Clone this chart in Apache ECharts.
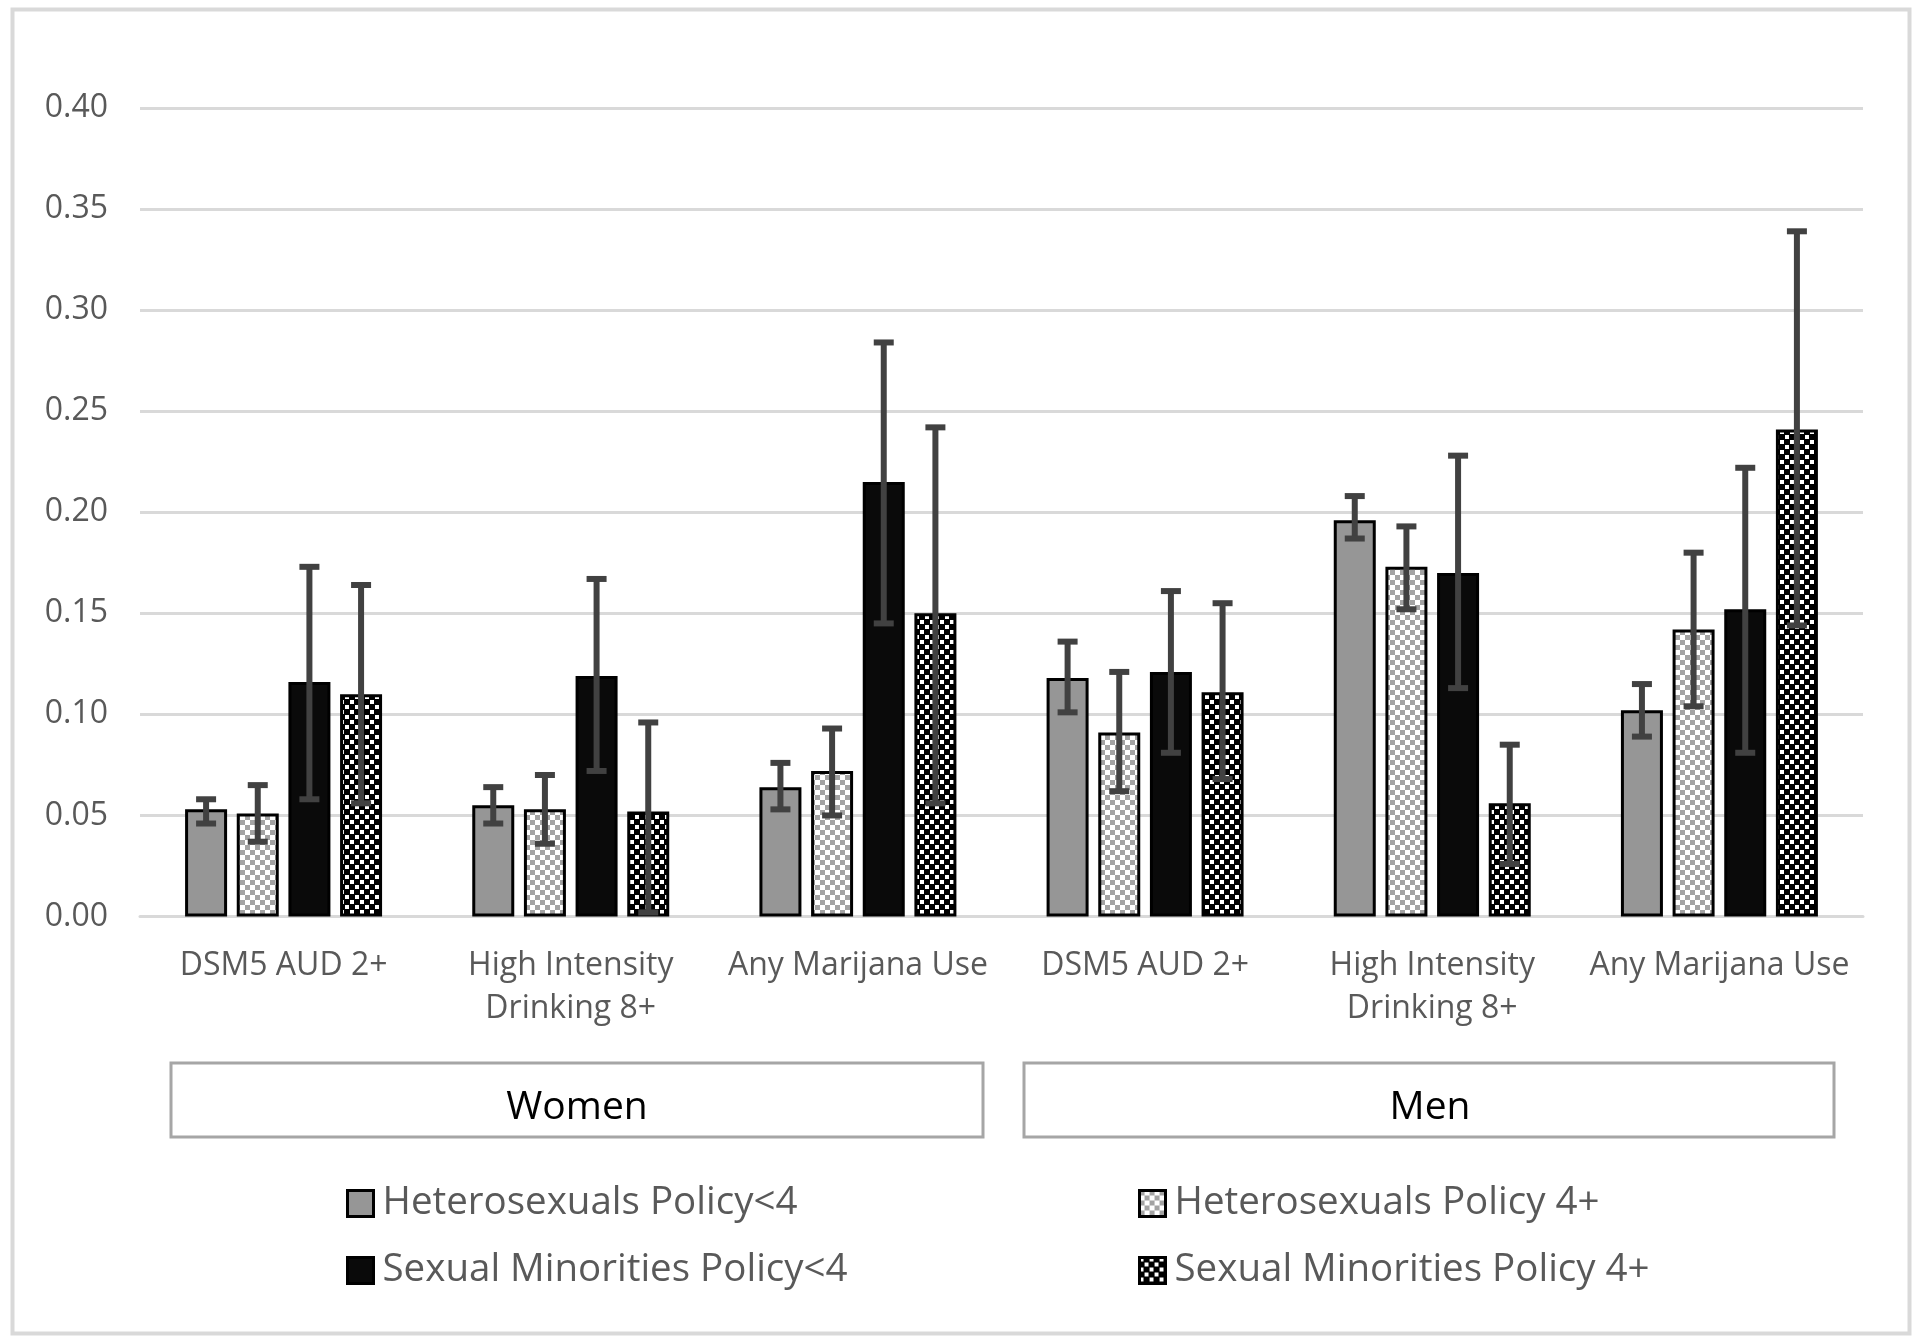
<!DOCTYPE html>
<html>
<head>
<meta charset="utf-8">
<script src="https://cdn.jsdelivr.net/npm/echarts@6/dist/echarts.min.js"></script>
<style>
html,body{margin:0;padding:0;background:#fff;}
#chart{width:1918px;height:1339px;}
</style>
</head>
<body>
<div id="chart"></div>
<script>
// ---- data ----
const categories = ['DSM5 AUD 2+', 'High Intensity\nDrinking 8+', 'Any Marijana Use', 'DSM5 AUD 2+', 'High Intensity\nDrinking 8+', 'Any Marijana Use'];
const groupLabels = ['Women', 'Men'];
const seriesNames = ['Heterosexuals Policy<4', 'Heterosexuals Policy 4+', 'Sexual Minorities Policy<4', 'Sexual Minorities Policy 4+'];
const yTicks = [0, 0.05, 0.10, 0.15, 0.20, 0.25, 0.30, 0.35, 0.40];

const hetLow    = [0.053, 0.055, 0.064, 0.118, 0.196, 0.102];
const hetLowLo  = [0.046, 0.046, 0.053, 0.101, 0.187, 0.089];
const hetLowHi  = [0.058, 0.064, 0.076, 0.136, 0.208, 0.115];

const het4      = [0.051, 0.053, 0.072, 0.091, 0.173, 0.142];
const het4Lo    = [0.037, 0.036, 0.050, 0.062, 0.152, 0.104];
const het4Hi    = [0.065, 0.070, 0.093, 0.121, 0.193, 0.180];

const smLow     = [0.116, 0.119, 0.215, 0.121, 0.170, 0.152];
const smLowLo   = [0.058, 0.072, 0.145, 0.081, 0.113, 0.081];
const smLowHi   = [0.173, 0.167, 0.284, 0.161, 0.228, 0.222];

const sm4       = [0.110, 0.052, 0.150, 0.111, 0.056, 0.241];
const sm4Lo     = [0.056, 0.002, 0.056, 0.068, 0.026, 0.144];
const sm4Hi     = [0.164, 0.096, 0.242, 0.155, 0.085, 0.339];

// ---- styles ----
const FONT = 'Open Sans';
const TEXT = '#595959';
const BAR_W = 42;
const BAR_GAP = 0.23;

function checker(bg, fg, cell, inset) {
  const c = document.createElement('canvas');
  c.width = cell * 2; c.height = cell * 2;
  const g = c.getContext('2d');
  g.fillStyle = bg; g.fillRect(0, 0, c.width, c.height);
  g.fillStyle = fg;
  g.fillRect(0, 0, cell - inset, cell - inset);
  g.fillRect(cell, cell, cell - inset, cell - inset);
  return c;
}
const grayChecker = { image: checker('#ffffff', '#a3a3a3', 5, 0), repeat: 'repeat' };
const blackChecker = { image: checker('#000000', '#ffffff', 5, 1), repeat: 'repeat' };

const fills = ['#969696', grayChecker, '#0a0a0a', blackChecker];
const values = [hetLow, het4, smLow, sm4];
const lows = [hetLowLo, het4Lo, smLowLo, sm4Lo];
const highs = [hetLowHi, het4Hi, smLowHi, sm4Hi];

const barSeries = seriesNames.map((name, k) => ({
  name: name,
  type: 'bar',
  barWidth: BAR_W,
  barGap: (BAR_GAP * 100) + '%',
  itemStyle: { color: fills[k], borderColor: '#000', borderWidth: 3 },
  data: values[k],
  z: 2
}));

function errSeries(k) {
  const step = BAR_W * (1 + BAR_GAP);
  const offset = (k - 1.5) * step;
  return {
    type: 'custom',
    z: 5,
    encode: { x: 0, y: [1, 2] },
    data: categories.map((c, i) => [i, lows[k][i], highs[k][i]]),
    renderItem: function (params, api) {
      const i = api.value(0);
      const lo = api.coord([i, api.value(1)]);
      const hi = api.coord([i, api.value(2)]);
      const x = lo[0] + offset;
      const cap = 10;
      const st = { stroke: '#414141', lineWidth: 6, lineCap: 'butt' };
      return {
        type: 'group',
        children: [
          { type: 'line', shape: { x1: x, y1: lo[1], x2: x, y2: hi[1] }, style: st },
          { type: 'line', shape: { x1: x - cap, y1: hi[1], x2: x + cap, y2: hi[1] }, style: st },
          { type: 'line', shape: { x1: x - cap, y1: lo[1], x2: x + cap, y2: lo[1] }, style: st }
        ]
      };
    }
  };
}

const chart = echarts.init(document.getElementById('chart'), null, { renderer: 'canvas' });

const legendBase = {
  orient: 'vertical',
  top: 1178,
  itemWidth: 26,
  itemHeight: 26,
  itemGap: 26,
  icon: 'rect',
  selectedMode: false,
  itemStyle: { borderColor: '#000', borderWidth: 3 },
  textStyle: { fontFamily: FONT, fontSize: 38.5, lineHeight: 41, color: TEXT, padding: [0, 0, 0, 4] }
};

const option = {
  backgroundColor: '#ffffff',
  animation: false,
  textStyle: { fontFamily: FONT },
  grid: { left: 140, right: 55, top: 108, bottom: 422.5, containLabel: false },
  xAxis: {
    type: 'category',
    data: categories,
    axisLine: { show: true, lineStyle: { color: '#d9d9d9', width: 3 } },
    axisTick: { show: false },
    axisLabel: {
      interval: 0,
      margin: 28,
      fontFamily: FONT,
      fontSize: 32,
      lineHeight: 43,
      color: TEXT
    }
  },
  yAxis: {
    type: 'value',
    min: yTicks[0],
    max: yTicks[yTicks.length - 1],
    interval: 0.05,
    axisLine: { show: false },
    axisTick: { show: false },
    splitLine: { show: true, lineStyle: { color: '#d9d9d9', width: 3 } },
    axisLabel: {
      margin: 32,
      fontFamily: FONT,
      fontSize: 32,
      color: TEXT,
      formatter: v => v.toFixed(2)
    }
  },
  legend: [
    Object.assign({}, legendBase, { data: [seriesNames[0], seriesNames[2]], left: 341 }),
    Object.assign({}, legendBase, { data: [seriesNames[1], seriesNames[3]], left: 1133 })
  ],
  graphic: [
    { type: 'rect', left: 10, top: 7, z: -10, silent: true,
      shape: { width: 1897, height: 1324 },
      style: { fill: 'none', stroke: '#d9d9d9', lineWidth: 4 } },
    { type: 'rect', z: 1, silent: true,
      shape: { x: 171, y: 1063, width: 812, height: 74 },
      style: { fill: '#fff', stroke: '#a6a6a6', lineWidth: 3 } },
    { type: 'text', z: 2, silent: true,
      x: 577, y: 1108,
      style: { text: groupLabels[0], fontFamily: FONT, fontSize: 39, fill: '#000', align: 'center', verticalAlign: 'middle' } },
    { type: 'rect', z: 1, silent: true,
      shape: { x: 1024, y: 1063, width: 810, height: 74 },
      style: { fill: '#fff', stroke: '#a6a6a6', lineWidth: 3 } },
    { type: 'text', z: 2, silent: true,
      x: 1430, y: 1108,
      style: { text: groupLabels[1], fontFamily: FONT, fontSize: 39, fill: '#000', align: 'center', verticalAlign: 'middle' } }
  ],
  series: barSeries.concat([0, 1, 2, 3].map(errSeries))
};

chart.setOption(option);
</script>
</body>
</html>
